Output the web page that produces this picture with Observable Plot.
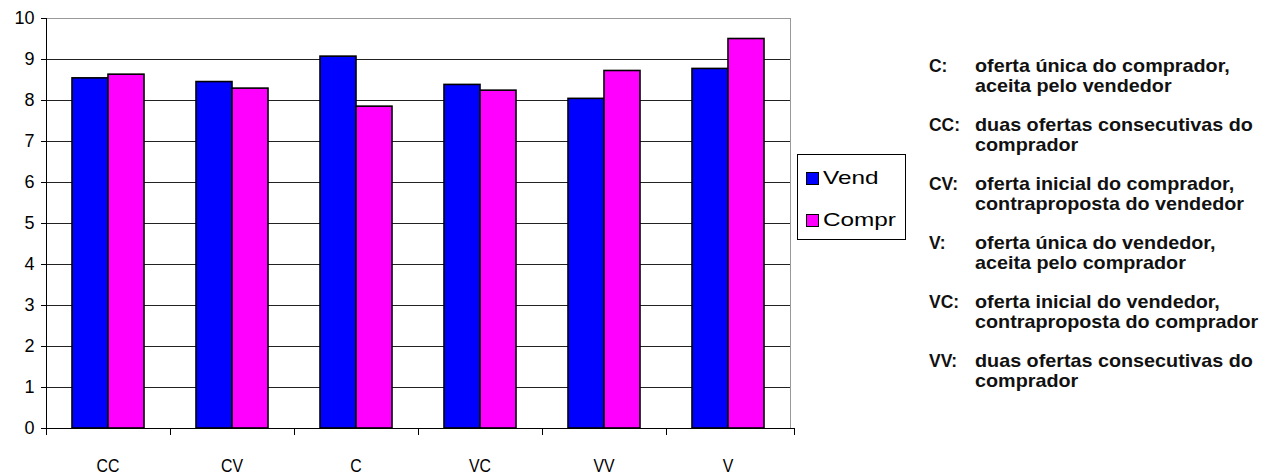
<!DOCTYPE html>
<html>
<head>
<meta charset="utf-8">
<script src="https://cdn.jsdelivr.net/npm/d3@7"></script>
<script src="https://cdn.jsdelivr.net/npm/@observablehq/plot@0.6"></script>
<style>
  html, body { margin: 0; padding: 0; background: #fff; }
  #wrap { position: relative; width: 1268px; height: 476px; overflow: hidden;
          font-family: "Liberation Sans", Arial, sans-serif; color: #000; }
  #wrap svg { position: absolute; left: 0; top: 0; }
  .legend { position: absolute; left: 797px; top: 154px; width: 107px; height: 84px;
            border: 1px solid #000; background: #fff; }
  .legend .item { position: absolute; left: 8px; height: 20px; display: flex; align-items: center; }
  .legend .sw { width: 11px; height: 11px; border: 1px solid #000; margin-right: 4px; }
  .legend .lbl { font-size: 19px; display: inline-block; transform: scaleX(1.28); transform-origin: left center; }
  .note { position: absolute; left: 929px; font-size: 19px; line-height: 20px; font-weight: bold; color: #111; }
  .note .key { position: absolute; left: 0; top: 0; display: inline-block; transform: scaleX(0.92); transform-origin: left center; }
  .note .txt { position: absolute; left: 46px; top: 0; white-space: nowrap; transform: scaleX(1.04); transform-origin: left top; }
</style>
</head>
<body>
<div id="wrap"></div>
<script>
const categories = ["CC", "CV", "C", "VC", "VV", "V"];
const seriesNames = ["Vend", "Compr"];
const vendValues = [8.54, 8.45, 9.07, 8.38, 8.04, 8.77];
const comprValues = [8.63, 8.29, 7.85, 8.24, 8.72, 9.50];
const seriesColors = ["#0000ff", "#ff00ff"];
const yTicks = [0, 1, 2, 3, 4, 5, 6, 7, 8, 9, 10];
const noteKeys = ["C:", "CC:", "CV:", "V:", "VC:", "VV:"];
const noteLines = [
  ["oferta única do comprador,", "aceita pelo vendedor"],
  ["duas ofertas consecutivas do", "comprador"],
  ["oferta inicial do comprador,", "contraproposta do vendedor"],
  ["oferta única do vendedor,", "aceita pelo comprador"],
  ["oferta inicial do vendedor,", "contraproposta do comprador"],
  ["duas ofertas consecutivas do", "comprador"]
];

const data = categories.flatMap((c, i) => [
  {cat: c, series: seriesNames[0], value: vendValues[i]},
  {cat: c, series: seriesNames[1], value: comprValues[i]}
]);

const W = 1268, H = 476;
const chart = Plot.plot({
  width: W, height: H,
  marginLeft: 45, marginRight: 478, marginTop: 18, marginBottom: 48,
  style: {fontFamily: "'Liberation Sans', Arial, sans-serif", fontSize: "17px", color: "#000", background: "transparent"},
  fx: {domain: categories, padding: 0, label: null, axis: null},
  x: {domain: seriesNames, paddingInner: 0, paddingOuter: 0.68, axis: null},
  y: {domain: [0, 10], label: null, axis: null},
  color: {domain: seriesNames, range: seriesColors},
  marks: [
    Plot.gridY(yTicks.filter(d => d > 0 && d < 10), {stroke: "#222", strokeOpacity: 1}),
    Plot.barY(data, {fx: "cat", x: "series", y: "value", fill: "series", stroke: "#000", strokeWidth: 1.6}),
    Plot.axisY(yTicks, {tickSize: 5, tickPadding: 7, fontSize: 18, label: null})
  ]
});

const wrap = document.getElementById("wrap");
wrap.appendChild(chart);

// frame, axis lines and category ticks from Plot's own scales
const fx = chart.scale("fx");
const y = chart.scale("y");
const svg = d3.select(chart);
const g = svg.append("g").attr("shape-rendering", "crispEdges");
const left = fx.apply(categories[0]);
const right = fx.apply(categories[categories.length - 1]) + fx.bandwidth;
const y0 = y.apply(0), y10 = y.apply(10);
g.append("line").attr("x1", left).attr("x2", right).attr("y1", y10).attr("y2", y10).attr("stroke", "#999");
g.append("line").attr("x1", right).attr("x2", right).attr("y1", y10).attr("y2", y0).attr("stroke", "#999");
g.append("line").attr("x1", left).attr("x2", left).attr("y1", y10).attr("y2", y0 + 7).attr("stroke", "#000");
g.append("line").attr("x1", left - 5).attr("x2", right + 4).attr("y1", y0).attr("y2", y0).attr("stroke", "#000");
const bounds = categories.map(c => fx.apply(c)).concat([right + 4]);
bounds.forEach(b => {
  g.append("line").attr("x1", b).attr("x2", b).attr("y1", y0).attr("y2", y0 + 7).attr("stroke", "#000");
});
categories.forEach(c => {
  svg.append("text")
    .attr("x", fx.apply(c) + fx.bandwidth / 2)
    .attr("y", y0 + 44)
    .attr("text-anchor", "middle")
    .attr("font-size", 18)
    .attr("fill", "#000")
    .attr("transform-origin", `${fx.apply(c) + fx.bandwidth / 2} ${y0 + 44}`)
    .attr("transform", "scale(0.88,1)")
    .text(c);
});

// legend
const legend = document.createElement("div");
legend.className = "legend";
seriesNames.forEach((s, i) => {
  const item = document.createElement("div");
  item.className = "item";
  item.style.top = (13 + i * 42) + "px";
  const sw = document.createElement("span");
  sw.className = "sw";
  sw.style.background = seriesColors[i];
  const lbl = document.createElement("span");
  lbl.className = "lbl";
  lbl.textContent = s;
  item.appendChild(sw);
  item.appendChild(lbl);
  legend.appendChild(item);
});
wrap.appendChild(legend);

// notes
noteKeys.forEach((k, i) => {
  const n = document.createElement("div");
  n.className = "note";
  n.style.top = (56 + i * 59) + "px";
  const key = document.createElement("span");
  key.className = "key";
  key.textContent = k;
  const txt = document.createElement("div");
  txt.className = "txt";
  txt.innerHTML = noteLines[i].map(t => `<div>${t}</div>`).join("");
  n.appendChild(key);
  n.appendChild(txt);
  wrap.appendChild(n);
});
</script>
</body>
</html>
